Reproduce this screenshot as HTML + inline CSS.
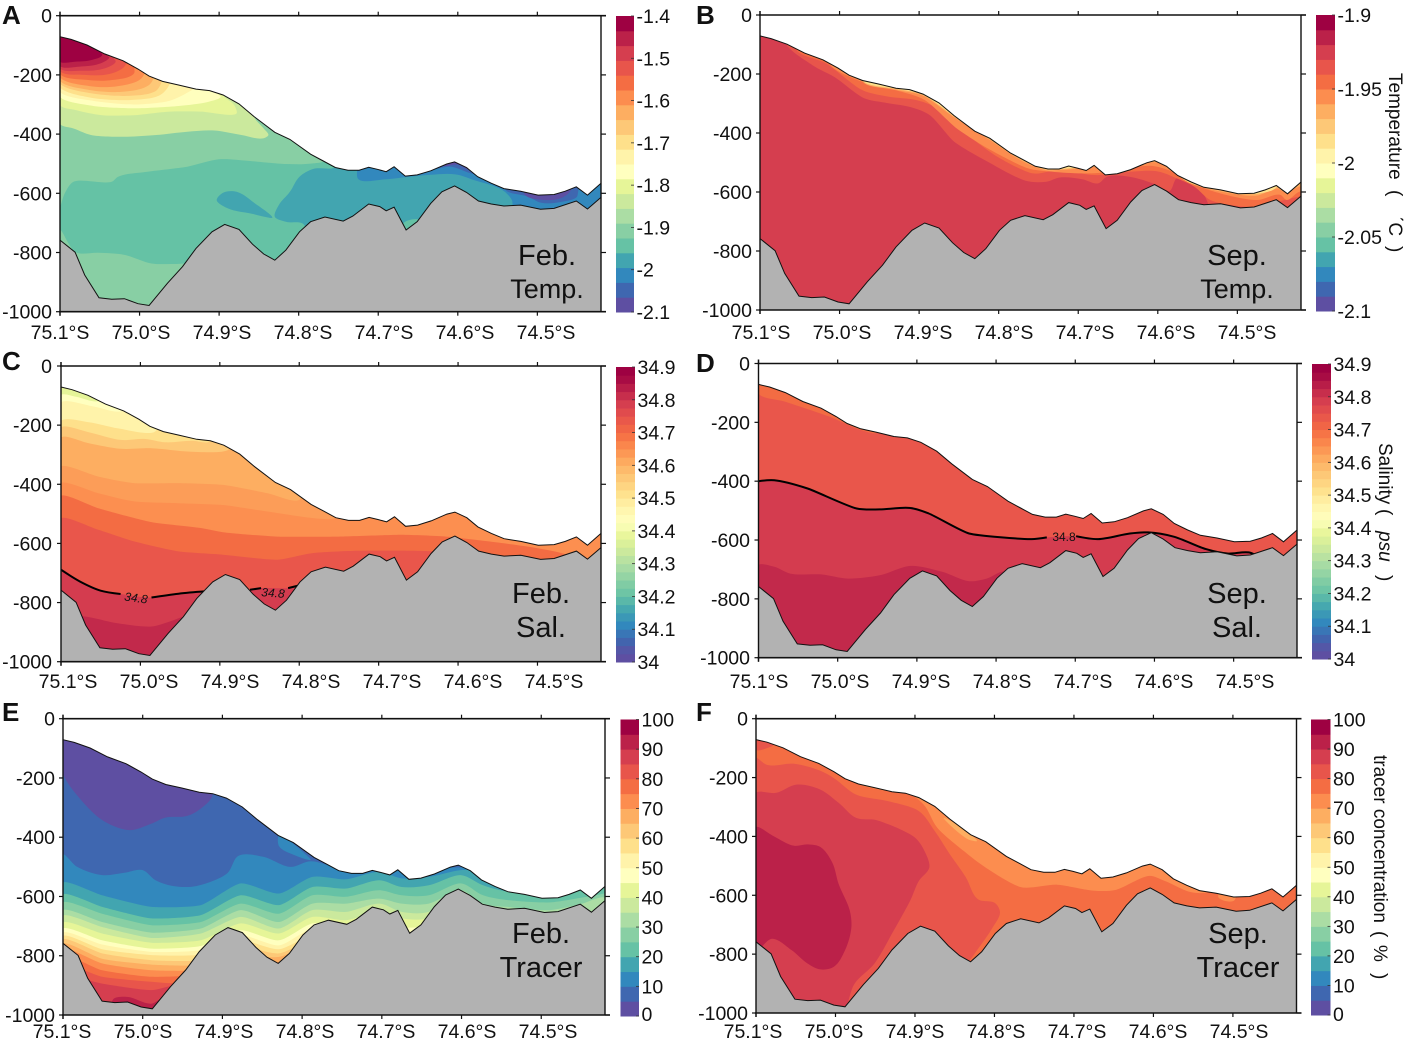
<!DOCTYPE html>
<html lang="en">
<head>
<meta charset="utf-8">
<title>Ross Sea section: temperature, salinity and tracer</title>
<style>
html,body{margin:0;padding:0;background:#fff;width:1406px;height:1043px;overflow:hidden;}
svg{display:block;overflow:hidden;}
text{font-family:"Liberation Sans",Arial,sans-serif;fill:#111;}
</style>
</head>
<body>
<svg id="figure" xmlns="http://www.w3.org/2000/svg" width="1406" height="1043" viewBox="0 0 1406 1043"></svg>
<script>
/* ---------- shared section data ---------- */
const latTicks = [75.1, 75.0, 74.9, 74.8, 74.7, 74.6, 74.5];
const latTickLabels = ['75.1°S', '75.0°S', '74.9°S', '74.8°S', '74.7°S', '74.6°S', '74.5°S'];
const depthTicks = [0, 200, 400, 600, 800, 1000];
const depthTickLabels = ['0', '-200', '-400', '-600', '-800', '-1000'];
const iceBase = [[75.1,71],[75.086,80],[75.066,99],[75.044,129],[75.021,152],[75.002,180],[74.988,204],[74.971,222],[74.951,234],[74.929,248],[74.912,253],[74.895,268],[74.875,298],[74.856,341],[74.83,394],[74.811,418],[74.785,468],[74.769,491],[74.754,513],[74.738,522],[74.724,522],[74.712,512],[74.701,519],[74.69,527],[74.68,510],[74.666,542],[74.651,538],[74.634,524],[74.614,501],[74.604,494],[74.589,513],[74.575,544],[74.558,566],[74.542,584],[74.521,593],[74.499,606],[74.479,604],[74.465,593],[74.451,578],[74.437,606],[74.42,566]];
const seabed = [[75.1,758],[75.081,799],[75.069,876],[75.051,953],[75.035,958],[75.019,956],[75.002,973],[74.988,979],[74.965,904],[74.946,848],[74.929,786],[74.909,730],[74.893,705],[74.875,722],[74.858,772],[74.844,805],[74.83,826],[74.816,792],[74.799,730],[74.785,696],[74.767,680],[74.744,694],[74.732,677],[74.712,636],[74.698,645],[74.69,659],[74.68,647],[74.665,724],[74.651,696],[74.634,634],[74.62,595],[74.604,575],[74.589,597],[74.574,626],[74.558,636],[74.542,643],[74.521,640],[74.496,654],[74.479,651],[74.451,626],[74.437,653],[74.42,614]];
const spectral = ['#5e4fa2','#3f67b0','#3288bd','#42a5b0','#66c2a5','#88cfa4','#abdda4','#cbe99d','#e6f598','#ffffbf','#fff3aa','#fee08b','#fdc877','#fdae61','#fc8d4f','#f46d43','#e8554b','#d53e4f','#bb2149','#9e0142'];

/* ---------- A: February temperature ---------- */
const tempFebBase = -1.943;
const tempFebBands = [
 {value:-1.908,mode:'area',points:[[75.1,724],[75.08,799],[75.052,801],[75.019,808],[74.985,837],[74.957,839],[74.94,842],[74.94,1100],[75.1,1100]]},
 {value:-1.908,mode:'area',points:[[75.1,645],[75.094,600],[75.083,561],[75.035,561],[75.027,544],[74.99,527],[74.94,510],[74.9,485],[74.861,491],[74.816,501],[74.782,499],[74.766,488],[74.766,0],[75.1,0]]},
 {value:-1.838,mode:'area',points:[[75.1,366],[75.083,381],[75.061,403],[75.019,409],[74.979,403],[74.94,392],[74.906,388],[74.872,403],[74.844,414],[74.838,403],[74.844,381],[74.856,341],[74.856,0],[75.1,0]]},
 {value:-1.803,mode:'area',points:[[75.1,302],[75.08,319],[75.047,336],[75.007,336],[74.962,324],[74.923,324],[74.878,330],[74.881,302],[74.895,268],[74.895,0],[75.1,0]]},
 {value:-1.768,mode:'area',points:[[75.1,274],[75.058,305],[75.007,313],[74.951,305],[74.912,290],[74.898,274],[74.906,253],[74.906,0],[75.1,0]]},
 {value:-1.733,mode:'area',points:[[75.1,257],[75.058,288],[75.007,300],[74.962,287],[74.934,251],[74.929,242],[74.929,0],[75.1,0]]},
 {value:-1.698,mode:'area',points:[[75.1,242],[75.061,277],[75.013,285],[74.974,268],[74.962,229],[74.962,0],[75.1,0]]},
 {value:-1.663,mode:'area',points:[[75.1,229],[75.061,262],[75.016,271],[74.979,253],[74.972,220],[74.972,0],[75.1,0]]},
 {value:-1.628,mode:'area',points:[[75.1,220],[75.063,251],[75.021,257],[74.988,234],[74.982,208],[74.982,0],[75.1,0]]},
 {value:-1.593,mode:'area',points:[[75.1,208],[75.063,238],[75.027,238],[74.999,215],[74.993,189],[74.993,0],[75.1,0]]},
 {value:-1.558,mode:'area',points:[[75.1,197],[75.066,217],[75.033,217],[75.007,195],[75.007,167],[75.007,0],[75.1,0]]},
 {value:-1.523,mode:'area',points:[[75.1,187],[75.069,200],[75.038,197],[75.019,172],[75.016,153],[75.016,0],[75.1,0]]},
 {value:-1.488,mode:'area',points:[[75.1,178],[75.072,186],[75.044,178],[75.03,155],[75.033,141],[75.033,0],[75.1,0]]},
 {value:-1.453,mode:'area',points:[[75.1,170],[75.075,172],[75.049,161],[75.038,141],[75.041,133],[75.041,0],[75.1,0]]},
 {value:-1.418,mode:'area',points:[[75.1,155],[75.08,155],[75.061,150],[75.047,133],[75.051,114],[75.051,0],[75.1,0]]},
 {value:-1.978,mode:'area',points:[[74.83,679],[74.825,640],[74.811,595],[74.799,544],[74.782,518],[74.754,510],[74.754,0],[74.542,0],[74.542,584],[74.532,611],[74.53,645],[74.53,800],[74.782,800],[74.794,704],[74.816,696]]},
 {value:-1.978,mode:'area',points:[[74.903,623],[74.895,598],[74.878,595],[74.855,634],[74.833,682],[74.861,668],[74.889,651]]},
 {value:-1.943,mode:'area',points:[[74.668,700],[74.648,690],[74.64,760],[74.67,760]]},
 {value:-2.013,mode:'area',points:[[74.726,500],[74.725,552],[74.692,553],[74.667,546],[74.636,538],[74.603,536],[74.58,555],[74.544,589],[74.532,623],[74.53,651],[74.42,651],[74.42,0],[74.726,0]]},
 {value:-2.048,mode:'area',points:[[74.634,514],[74.608,510],[74.583,533],[74.57,540],[74.57,0],[74.634,0]]},
 {value:-2.048,mode:'area',points:[[74.54,588],[74.512,611],[74.495,632],[74.468,628],[74.45,611],[74.447,0],[74.54,0]]},
 {value:-2.083,mode:'area',points:[[74.516,604],[74.495,622],[74.47,616],[74.458,590],[74.458,0],[74.516,0]]},
 {value:-2.083,mode:'area',points:[[74.62,505],[74.6,503],[74.585,520],[74.585,0],[74.62,0]]}
];
const tempFebBarTicks = [-1.4,-1.5,-1.6,-1.7,-1.8,-1.9,-2,-2.1];
const tempFebBarLabels = ['-1.4','-1.5','-1.6','-1.7','-1.8','-1.9','-2','-2.1'];

/* ---------- B: September temperature ---------- */
const tempSepBase = -1.925;
const tempSepBands = [
 {value:-1.935,mode:'area',points:[[75.068,96],[75.034,170],[75.006,211],[74.969,282],[74.943,297],[74.91,313],[74.887,339],[74.856,429],[74.814,497],[74.766,562],[74.74,565],[74.723,551],[74.695,557],[74.675,571],[74.664,548],[74.636,548],[74.604,573],[74.585,596],[74.576,554],[74.545,599],[74.537,638],[74.534,678],[74.4,678],[74.4,0],[75.068,0]]},
 {value:-1.945,mode:'area',points:[[75.054,119],[75.017,164],[74.972,254],[74.938,277],[74.904,288],[74.881,311],[74.842,401],[74.802,480],[74.757,537],[74.723,525],[74.684,542],[74.667,542],[74.633,531],[74.599,531],[74.576,554],[74.554,582],[74.534,627],[74.508,644],[74.475,650],[74.441,627],[74.422,616],[74.4,616],[74.4,0],[75.054,0]]},
 {value:-1.955,mode:'area',points:[[75.011,170],[74.966,232],[74.927,257],[74.893,288],[74.853,384],[74.814,452],[74.763,520],[74.734,531],[74.695,537],[74.667,534],[74.61,511],[74.587,525],[74.554,575],[74.514,610],[74.475,627],[74.446,610],[74.438,627],[74.422,599],[74.4,599],[74.4,0],[75.011,0]]},
 {value:-1.965,mode:'area',points:[[74.97,228],[74.929,254],[74.895,274],[74.856,347],[74.811,424],[74.769,497],[74.738,527],[74.6,500],[74.56,570],[74.514,602],[74.475,612],[74.45,588],[74.44,600],[74.42,580],[74.4,580],[74.4,0],[74.97,0]]},
 {value:-1.985,mode:'area',points:[[74.97,224],[74.929,250],[74.895,270],[74.856,343],[74.811,420],[74.769,493],[74.738,524],[74.6,496],[74.56,568],[74.514,596],[74.475,606],[74.45,582],[74.44,0],[74.97,0]]}
];
const tempSepBarTicks = [-1.9,-1.95,-2,-2.05,-2.1];
const tempSepBarLabels = ['-1.9','-1.95','-2','-2.05','-2.1'];

/* ---------- C: February salinity ---------- */
const salFebBase = 34.38;
const salFebBands = [
 {value:34.4275,mode:'below',points:[[75.1,98],[75.081,104],[75.056,120],[74.9,0],[74.4,0]]},
 {value:34.4725,mode:'below',points:[[75.1,123],[75.059,137],[75.025,154],[74.9,0],[74.4,0]]},
 {value:34.5175,mode:'below',points:[[75.1,186],[75.065,190],[75.028,211],[74.983,224],[74.9,0],[74.4,0]]},
 {value:34.5625,mode:'below',points:[[75.1,208],[75.065,224],[75.025,250],[74.994,247],[74.969,258],[74.935,253],[74.913,256],[74.85,0],[74.4,0]]},
 {value:34.6075,mode:'below',points:[[75.1,242],[75.065,261],[75.025,280],[74.986,278],[74.941,289],[74.896,289],[74.885,278],[74.8,0],[74.4,0]]},
 {value:34.63,mode:'below',points:[[75.1,340],[75.053,374],[75.008,396],[74.952,396],[74.896,402],[74.84,430],[74.8,453],[74.7,0],[74.4,0]]},
 {value:34.65,mode:'below',points:[[75.1,396],[75.053,430],[75.008,458],[74.952,464],[74.896,470],[74.84,492],[74.755,515],[74.7,0],[74.4,0]]},
 {value:34.7,mode:'below',points:[[75.1,439],[75.053,481],[74.986,528],[74.924,548],[74.896,562],[74.828,577],[74.75,577],[74.671,571],[74.615,577],[74.559,594],[74.514,610],[74.475,629],[74.446,650],[74.4,650]]},
 {value:34.74,mode:'below',points:[[75.1,515],[75.053,554],[75.008,593],[74.952,627],[74.896,638],[74.828,655],[74.784,633],[74.727,625],[74.632,627],[74.6,645],[74.56,660],[74.4,700]]},
 {value:34.79,mode:'below',points:[[75.1,689],[75.076,729],[75.05,760],[75.025,771],[74.986,783],[74.952,770],[74.918,762],[74.862,757],[74.848,751],[74.814,751],[74.8,742],[74.4,760]]},
 {value:34.82,mode:'below',points:[[75.1,847],[75.07,847],[75.031,869],[74.986,881],[74.963,864],[74.944,847],[74.9,847],[74.4,847]]}
];
const salFebContourLeft = [[75.1,689],[75.076,729],[75.05,760],[75.025,771]];
const salFebContourMid = [[74.986,783],[74.952,770],[74.918,762]];
const salFebContourBasinA = [[74.862,757],[74.848,751]];
const salFebContourBasinB = [[74.814,751],[74.8,742]];
const salBarTicks = [34.9,34.8,34.7,34.6,34.5,34.4,34.3,34.2,34.1,34];
const salBarLabels = ['34.9','34.8','34.7','34.6','34.5','34.4','34.3','34.2','34.1','34'];

/* ---------- D: September salinity ---------- */
const salSepBase = 34.74;
const salSepBands = [
 {value:34.7,mode:'area',points:[[75.1,102],[75.066,130],[75.01,181],[74.97,227],[74.95,235],[74.95,0],[75.1,0]]},
 {value:34.79,mode:'below',points:[[75.1,400],[75.08,397],[75.038,425],[74.976,493],[74.947,496],[74.908,491],[74.885,510],[74.834,578],[74.755,597],[74.736,591],[74.699,587],[74.671,597],[74.631,578],[74.608,574],[74.575,589],[74.535,631],[74.507,646],[74.481,642],[74.473,663],[74.4,663]]},
 {value:34.82,mode:'below',points:[[75.1,685],[75.08,691],[75.06,714],[75.021,717],[74.987,731],[74.947,720],[74.908,688],[74.868,708],[74.834,740],[74.812,731],[74.789,708],[74.7,1100]]}
];
const salSepContourLeft = [[75.1,400],[75.08,397],[75.038,425],[74.976,493],[74.947,496],[74.908,491],[74.885,510],[74.834,578],[74.755,597],[74.736,591]];
const salSepContourRight = [[74.699,587],[74.671,597],[74.631,578],[74.608,574],[74.575,589],[74.535,631],[74.507,646],[74.481,642],[74.473,650]];

/* ---------- E: February tracer ---------- */
const tracerFebBase = 7.5;
const tracerFebBands = [
 {value:2.5,mode:'area',points:[[75.1,0],[75.1,185],[75.079,269],[75.051,342],[75.017,376],[74.989,354],[74.972,334],[74.944,328],[74.927,303],[74.913,263],[74.913,200],[74.913,0]]},
 {value:12.5,mode:'below',points:[[75.1,458],[75.082,500],[75.051,528],[75.023,520],[75.0,511],[74.984,545],[74.961,565],[74.933,565],[74.894,522],[74.88,463],[74.849,466],[74.815,500],[74.789,481],[74.748,511],[74.731,517],[74.675,506],[74.4,506]]},
 {value:12.5,mode:'area',points:[[74.829,393],[74.789,477],[74.81,460],[74.829,430]]},
 {value:17.5,mode:'below',points:[[75.1,553],[75.051,596],[74.989,635],[74.927,629],[74.877,556],[74.829,590],[74.787,534],[74.745,542],[74.703,517],[74.675,539],[74.641,534],[74.601,511],[74.56,511],[74.4,511]]},
 {value:22.5,mode:'below',points:[[75.1,593],[75.051,635],[74.989,674],[74.927,663],[74.877,596],[74.829,629],[74.787,568],[74.745,573],[74.703,545],[74.675,568],[74.641,562],[74.601,528],[74.573,562],[74.54,584],[74.52,580],[74.4,550]]},
 {value:27.5,mode:'below',points:[[75.1,620],[75.051,658],[74.989,697],[74.927,686],[74.877,624],[74.829,658],[74.787,596],[74.745,601],[74.703,579],[74.675,596],[74.641,596],[74.601,556],[74.573,596],[74.54,613],[74.489,620],[74.44,600],[74.4,590]]},
 {value:32.5,mode:'below',points:[[75.1,646],[75.051,686],[74.989,722],[74.927,708],[74.877,646],[74.829,686],[74.787,624],[74.745,624],[74.703,607],[74.675,624],[74.641,624],[74.601,579],[74.573,624],[74.54,636],[74.489,646],[74.45,625],[74.42,605]]},
 {value:37.5,mode:'below',points:[[75.1,665],[75.051,703],[74.989,740],[74.927,725],[74.877,669],[74.829,708],[74.787,646],[74.745,652],[74.703,624],[74.675,652],[74.641,652],[74.601,584],[74.573,641],[74.54,665],[74.4,700]]},
 {value:42.5,mode:'below',points:[[75.1,688],[75.051,725],[74.989,756],[74.927,748],[74.877,691],[74.829,725],[74.787,669],[74.745,680],[74.703,652],[74.675,674],[74.641,674],[74.601,620],[74.56,665],[74.4,700]]},
 {value:47.5,mode:'below',points:[[75.1,708],[75.051,748],[74.989,776],[74.927,767],[74.877,714],[74.829,748],[74.787,691],[74.745,697],[74.703,669],[74.675,703],[74.641,697],[74.6,650],[74.55,675],[74.4,700]]},
 {value:52.5,mode:'below',points:[[75.1,722],[75.051,762],[74.989,787],[74.927,781],[74.877,731],[74.829,765],[74.787,708],[74.745,720],[74.4,750]]},
 {value:57.5,mode:'below',points:[[75.1,733],[75.051,778],[74.989,798],[74.927,796],[74.877,748],[74.829,778],[74.787,730],[74.4,760]]},
 {value:62.5,mode:'below',points:[[75.1,745],[75.051,792],[74.989,815],[74.927,815],[74.877,770],[74.829,792],[74.787,745],[74.4,760]]},
 {value:67.5,mode:'below',points:[[75.1,759],[75.051,810],[74.989,830],[74.927,832],[74.877,800],[74.829,804],[74.787,760],[74.4,780]]},
 {value:72.5,mode:'below',points:[[75.1,776],[75.051,826],[74.989,849],[74.927,849],[74.877,820],[74.829,821],[74.787,780],[74.4,800]]},
 {value:77.5,mode:'below',points:[[75.1,800],[75.051,849],[74.989,871],[74.93,866],[74.829,840],[74.4,840]]},
 {value:82.5,mode:'below',points:[[75.1,830],[75.051,871],[74.989,888],[74.96,893],[74.9,880],[74.4,880]]},
 {value:87.5,mode:'below',points:[[75.1,870],[75.051,894],[74.989,916],[74.96,900],[74.9,900],[74.4,900]]},
 {value:92.5,mode:'area',points:[[75.037,947],[75.02,939],[74.989,962],[74.978,950],[74.978,1100],[75.037,1100]]}
];
const tracerBarTicks = [100,90,80,70,60,50,40,30,20,10,0];
const tracerBarLabels = ['100','90','80','70','60','50','40','30','20','10','0'];

/* ---------- F: September tracer ---------- */
const tracerSepBase = 72.5;
const tracerSepBands = [
 {value:77.5,mode:'below',points:[[75.1,0],[74.979,215],[74.945,241],[74.906,258],[74.889,292],[74.872,370],[74.839,449],[74.811,506],[74.766,573],[74.721,564],[74.676,584],[74.648,582],[74.605,534],[74.586,551],[74.552,590],[74.53,590],[74.5,560],[74.4,500]]},
 {value:72.5,mode:'area',points:[[74.518,608],[74.499,619],[74.496,600],[74.518,595]]},
 {value:67.5,mode:'area',points:[[74.864,337],[74.833,410],[74.822,416],[74.85,355]]},
 {value:82.5,mode:'area',points:[[75.1,134],[75.086,157],[75.052,153],[75.019,177],[75.002,202],[74.974,258],[74.934,280],[74.895,314],[74.875,382],[74.856,461],[74.836,539],[74.821,613],[74.799,627],[74.793,658],[74.802,708],[74.822,787],[74.833,826],[74.889,933],[75.1,1100]]},
 {value:87.5,mode:'area',points:[[75.1,252],[75.075,252],[75.049,224],[75.019,241],[74.996,286],[74.974,337],[74.948,345],[74.9,404],[74.886,461],[74.882,506],[74.895,551],[74.906,618],[74.929,731],[74.951,832],[74.976,900],[74.99,990],[75.1,1100]]},
 {value:92.5,mode:'area',points:[[75.1,368],[75.078,399],[75.052,432],[75.035,427],[75.019,436],[75.004,489],[74.996,562],[74.982,652],[74.98,708],[74.988,787],[75.002,843],[75.019,852],[75.035,832],[75.055,787],[75.08,748],[75.1,790]]},
 {value:82.5,mode:'area',points:[[75.1,60],[75.1,106],[75.086,100],[75.078,89],[75.089,72]]}
];

/* ---------- layout (separate from data) ---------- */
const panels = [
 {id:'a',letter:'A',lx:2,ly:24,box:[60,601,15.7,311.7],base:tempFebBase,bands:tempFebBands,vmin:-2.1,vmax:-1.4,n:20,bar:[616,634,16,312],ticks:tempFebBarTicks,labels:tempFebBarLabels,tag:['Feb.','Temp.'],tagX:547,tagY:[265,298],tagSize:[29,27],contours:[],ylabelEnd:52,xLabelStart:60,xLabelY:339},
 {id:'b',letter:'B',lx:696,ly:24,box:[760,1301,15,310],base:tempSepBase,bands:tempSepBands,vmin:-2.1,vmax:-1.9,n:20,bar:[1316,1335,15,311],ticks:tempSepBarTicks,labels:tempSepBarLabels,tag:['Sep.','Temp.'],tagX:1237,tagY:[265,298],tagSize:[29,27],contours:[],ylabelEnd:752,xLabelStart:761,xLabelY:339},
 {id:'c',letter:'C',lx:2,ly:370,box:[61,601,366,661.7],base:salFebBase,bands:salFebBands,vmin:34,vmax:34.9,n:36,bar:[616,635,367,662],ticks:salBarTicks,labels:salBarLabels,tag:['Feb.','Sal.'],tagX:541,tagY:[603,637],tagSize:[29,29],contours:[salFebContourLeft,salFebContourMid,salFebContourBasinA,salFebContourBasinB],ylabelEnd:52,xLabelStart:68,xLabelY:688},
 {id:'d',letter:'D',lx:696,ly:372,box:[758.5,1297,363.5,657.7],base:salSepBase,bands:salSepBands,vmin:34,vmax:34.9,n:36,bar:[1312,1331,364,659],ticks:salBarTicks,labels:salBarLabels,tag:['Sep.','Sal.'],tagX:1237,tagY:[603,637],tagSize:[29,29],contours:[salSepContourLeft,salSepContourRight],ylabelEnd:750,xLabelStart:759,xLabelY:688},
 {id:'e',letter:'E',lx:2,ly:721,box:[63,605,718.7,1015],base:tracerFebBase,bands:tracerFebBands,vmin:0,vmax:100,n:20,bar:[620.5,639,719.5,1016],ticks:tracerBarTicks,labels:tracerBarLabels,tag:['Feb.','Tracer'],tagX:541,tagY:[943,977],tagSize:[29,29],contours:[],ylabelEnd:55,xLabelStart:62,xLabelY:1038},
 {id:'f',letter:'F',lx:696,ly:721,box:[756,1296.5,718.7,1013],base:tracerSepBase,bands:tracerSepBands,vmin:0,vmax:100,n:20,bar:[1311,1330.5,719.5,1015],ticks:tracerBarTicks,labels:tracerBarLabels,tag:['Sep.','Tracer'],tagX:1238,tagY:[943,977],tagSize:[29,29],contours:[],ylabelEnd:748,xLabelStart:753,xLabelY:1038}
];
const X_LABEL_STEP = 81;

const NS = 'http://www.w3.org/2000/svg';
const root = document.getElementById('figure');
function mk(tag, parent, attrs, txt){
  const el = document.createElementNS(NS, tag);
  for (const k in attrs) el.setAttribute(k, attrs[k]);
  if (txt !== undefined) el.textContent = txt;
  parent.appendChild(el);
  return el;
}
function hexRgb(h){return [1,3,5].map(i=>parseInt(h.substr(i,2),16));}
function colorFor(v, vmin, vmax){
  let t = (v - vmin) / (vmax - vmin) * 20 - 0.5;
  t = Math.max(0, Math.min(19, t));
  const a = Math.floor(t), b = Math.min(19, a + 1), f = t - a;
  const ca = hexRgb(spectral[a]), cb = hexRgb(spectral[b]);
  return 'rgb(' + ca.map((c,i)=>Math.round(c + (cb[i]-c)*f)).join(',') + ')';
}
/* Smooth path through pixel points; control arms are capped so long segments do not overshoot */
function smoothPath(px, closed){
  const n = px.length;
  const unit = (a,b) => {const dx=b[0]-a[0],dy=b[1]-a[1],l=Math.hypot(dx,dy)||1;return [dx/l,dy/l];};
  const tan = px.map((p,i)=>{
    const hasPrev = closed || i>0, hasNext = closed || i<n-1;
    if(!hasPrev || !hasNext) return [0,0];
    const u = unit(px[(i-1+n)%n],p), v = unit(p,px[(i+1)%n]);
    return [(u[0]+v[0])/2,(u[1]+v[1])/2];
  });
  let d = 'M' + px[0][0].toFixed(1) + ' ' + px[0][1].toFixed(1);
  const segs = closed ? n : n-1;
  for(let i=0;i<segs;i++){
    const a = px[i], b = px[(i+1)%n], ta = tan[i], tb = tan[(i+1)%n];
    const l = Math.min(Math.hypot(b[0]-a[0],b[1]-a[1])*0.33, 9);
    d += 'C'+(a[0]+ta[0]*l).toFixed(1)+' '+(a[1]+ta[1]*l).toFixed(1)+' '+(b[0]-tb[0]*l).toFixed(1)+' '+(b[1]-tb[1]*l).toFixed(1)+' '+b[0].toFixed(1)+' '+b[1].toFixed(1);
  }
  return d + (closed ? 'Z' : '');
}

panels.forEach(function(p){
  const x0 = p.box[0], x1 = p.box[1], y0 = p.box[2], y1 = p.box[3];
  const xScale = lat => x0 + (75.1 - lat) / 0.68 * (x1 - x0);
  const yScale = d => y0 + d / 1000 * (y1 - y0);
  const toPts = arr => arr.map(q => xScale(q[0]).toFixed(1) + ',' + yScale(q[1]).toFixed(1)).join(' ');
  const toPx = arr => arr.map(q => [xScale(q[0]), yScale(q[1])]);

  const g = mk('g', root, {});
  
  

  const defs = mk('defs', g, {});
  const clip = mk('clipPath', defs, {id:'water-' + p.id});
  mk('polygon', clip, {points: toPts(iceBase.concat(seabed.slice().reverse()))});

  const field = mk('g', g, {'clip-path':'url(#water-' + p.id + ')'});
  
  

  const baseRect = mk('rect', field, {x:x0, y:y0, width:x1-x0, height:y1-y0, fill:colorFor(p.base, p.vmin, p.vmax)});
  
  

  p.bands.forEach(function(b){
    let pts = b.points;
    if (b.mode === 'below') {
      pts = pts.concat([[pts[pts.length-1][0],1100],[pts[0][0],1100]]);
    }
    const shape = mk('path', field, {d:smoothPath(toPx(pts), true), fill:colorFor(b.value, p.vmin, p.vmax)});
    
    
  });

  p.contours.forEach(function(c){
    const line = mk('path', g, {d:smoothPath(toPx(c), false), fill:'none', stroke:'#000', 'stroke-width':2});
    
    
  });

  const bed = mk('polygon', g, {points:toPts(seabed.concat([[74.42,1000],[75.1,1000]])), fill:'#b2b2b2'});
  
  

  const bedLine = mk('polyline', g, {points:toPts(seabed), fill:'none', stroke:'#111', 'stroke-width':1});
  
  

  const iceLine = mk('polyline', g, {points:toPts(iceBase), fill:'none', stroke:'#111', 'stroke-width':1});
  
  

  const frame = mk('g', g, {stroke:'#111', fill:'none'});
  
  
  mk('line', frame, {x1:x0-1, x2:x1+5, y1:y0, y2:y0, 'stroke-width':1.6});
  mk('line', frame, {x1:x0-1, x2:x1+5, y1:y1, y2:y1, 'stroke-width':1.6});
  mk('line', frame, {x1:x0, x2:x0, y1:y0-4, y2:y1+4, 'stroke-width':1.4});
  mk('line', frame, {x1:x1, x2:x1, y1:y0, y2:y1, 'stroke-width':1.4});

  latTicks.forEach(function(lat, i){
    const x = xScale(lat);
    mk('line', frame, {x1:x, x2:x, y1:y0-4, y2:y0, 'stroke-width':1.2});
    mk('line', frame, {x1:x, x2:x, y1:y1, y2:y1+4, 'stroke-width':1.2});
    const t = mk('text', g, {x:p.xLabelStart + i * X_LABEL_STEP, y:p.xLabelY, 'text-anchor':'middle', 'font-size':19.5}, latTickLabels[i]);
    
    
  });
  depthTicks.forEach(function(d, i){
    const y = yScale(d);
    mk('line', frame, {x1:x0-4, x2:x0, y1:y, y2:y, 'stroke-width':1.2});
    mk('line', frame, {x1:x1, x2:x1+5, y1:y, y2:y, 'stroke-width':1.2});
    const t = mk('text', g, {x:p.ylabelEnd, y:y+7, 'text-anchor':'end', 'font-size':19.5}, depthTickLabels[i]);
    
    
  });

  const bar = mk('g', g, {});
  
  
  const bx0 = p.bar[0], bx1 = p.bar[1], by0 = p.bar[2], by1 = p.bar[3];
  const barY = v => by1 - (v - p.vmin) / (p.vmax - p.vmin) * (by1 - by0);
  for (let i = 0; i < p.n; i++) {
    const lo = p.vmin + (p.vmax - p.vmin) * i / p.n;
    const hi = p.vmin + (p.vmax - p.vmin) * (i + 1) / p.n;
    const r = mk('rect', bar, {x:bx0, width:bx1-bx0, y:barY(hi), height:barY(lo)-barY(hi)+0.5, fill:colorFor((lo+hi)/2, p.vmin, p.vmax)});
    
    
  }
  p.ticks.forEach(function(v, i){
    const y = barY(v);
    mk('line', bar, {x1:bx1-3, x2:bx1, y1:y, y2:y, stroke:'#333', 'stroke-width':0.8});
    const t = mk('text', bar, {x:bx1+2.5, y:Math.min(y+7, 1021), 'font-size':19.5}, p.labels[i]);
    
    
  });

  const letter = mk('text', g, {x:p.lx, y:p.ly, 'font-size':26, 'font-weight':'bold', fill:'#000'}, p.letter);
  
  

  p.tag.forEach(function(s, i){
    const t = mk('text', g, {x:p.tagX, y:p.tagY[i], 'text-anchor':'middle', 'font-size':p.tagSize[i]}, s);
    
    
  });
});

function contourLabel(x, y, rot, color, size){
  const t = mk('text', root, {x:x, y:y, 'text-anchor':'middle', 'dominant-baseline':'central', 'font-size':size, 'font-style':rot ? 'italic' : 'normal', fill:color, transform:'rotate(' + rot + ' ' + x + ' ' + y + ')'}, '34.8');
  
  
}
contourLabel(136, 598, 8, '#4a0a20', 12);
contourLabel(273, 593, 4, '#4a0a20', 12);
contourLabel(1064, 537, 0, '#4a0a20', 12);

const titleT = mk('text', root, {x:0, y:0, 'font-size':19, transform:'translate(1389 73) rotate(90)'});


mk('tspan', titleT, {x:0}, 'Temperature');
mk('tspan', titleT, {x:117}, '(');
mk('tspan', titleT, {x:143}, 'ˊC');
mk('tspan', titleT, {x:173}, ')');

const titleS = mk('text', root, {x:0, y:0, 'font-size':19, transform:'translate(1379 443) rotate(90)'});


mk('tspan', titleS, {x:0}, 'Salinity');
mk('tspan', titleS, {x:66}, '(');
mk('tspan', titleS, {x:88, 'font-style':'italic'}, 'psu');
mk('tspan', titleS, {x:132}, ')');

const titleC = mk('text', root, {x:0, y:0, 'font-size':19, transform:'translate(1374 755) rotate(90)'});


mk('tspan', titleC, {x:0}, 'tracer concentration');
mk('tspan', titleC, {x:176}, '(');
mk('tspan', titleC, {x:190}, '%');
mk('tspan', titleC, {x:218}, ')');
</script>
</body>
</html>
